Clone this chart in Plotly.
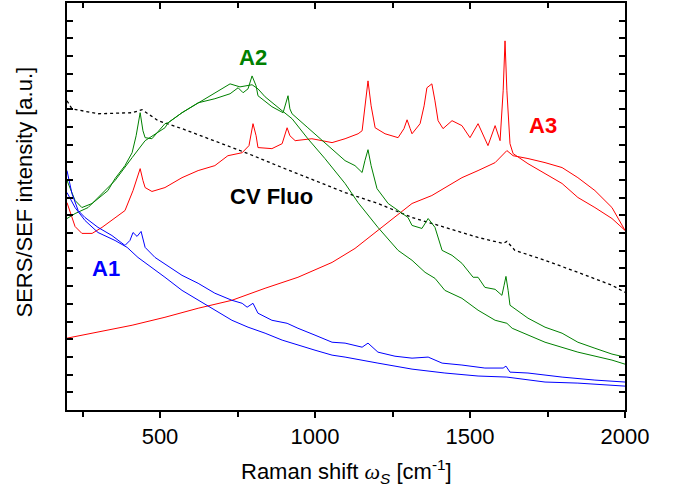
import plotly.graph_objects as go

# ---------------- data ----------------
# A3 SERS (red, with Raman peaks)
a3_sers_x = [200, 226, 248, 281, 313, 355, 387, 413, 426, 436, 445, 452, 474, 516, 571, 623, 677, 719, 765, 787,
             800, 810, 816, 861, 894, 903, 910, 919, 936, 990, 1055, 1097, 1139, 1152, 1161, 1171, 1181, 1194, 1226, 1268,
             1287, 1297, 1307, 1313, 1339, 1352, 1361, 1377, 1387, 1397, 1413, 1442, 1474, 1500, 1526, 1558, 1581, 1597, 1607, 1613,
             1619, 1629, 1639, 1687, 1742, 1797, 1848, 1903, 1958, 2000]
a3_sers_y = [11.72, 10.37, 9.98, 9.98, 10.32, 10.88, 11.27, 12.40, 13.08, 13.64, 12.97, 12.57, 12.35, 12.57, 13.13, 13.53, 13.81, 14.37, 14.54, 14.94,
             16.18, 15.50, 14.83, 14.77, 15.05, 15.50, 15.95, 15.50, 15.22, 15.33, 15.11, 15.33, 15.61, 15.78, 17.19, 18.60, 17.19, 15.95, 15.61, 15.39,
             15.90, 16.40, 15.90, 15.61, 16.18, 17.19, 18.21, 18.43, 17.47, 16.35, 15.90, 16.35, 16.07, 15.39, 16.18, 14.94, 16.07, 15.22, 18.04, 20.86,
             18.04, 15.05, 14.49, 13.92, 13.36, 12.80, 12.01, 11.44, 10.82, 10.15]

# A3 SEF (red, broad fluorescence)
a3_sef_x = [200, 300, 410, 516, 623, 732, 839, 945, 1055, 1129, 1203, 1258, 1313, 1377, 1419, 1474, 1526, 1581, 1619, 1639,
            1687, 1742, 1797, 1848, 1903, 1958, 2000]
a3_sef_y = [4.06, 4.40, 4.79, 5.24, 5.75, 6.20, 6.88, 7.50, 8.34, 9.13, 10.15, 10.88, 11.67, 12.12, 12.57, 13.13, 13.53, 13.98, 14.66, 14.37,
            14.21, 13.98, 13.70, 13.13, 12.40, 11.44, 10.15]

# A2 SERS (green, with peaks)
a2_sers_x = [200, 226, 248, 281, 332, 355, 387, 410, 423, 436, 445, 452, 474, 516, 526, 571, 623, 677, 726, 752,
             768, 784, 797, 810, 816, 861, 897, 907, 913, 919, 926, 977, 1032, 1097, 1129, 1152, 1161, 1171, 1181, 1200,
             1236, 1300, 1313, 1345, 1365, 1387, 1410, 1442, 1474, 1510, 1526, 1548, 1581, 1603, 1610, 1616, 1623, 1629, 1687, 1742,
             1797, 1848, 1903, 1958, 2000]
a2_sers_y = [12.97, 11.84, 11.44, 11.67, 12.40, 13.08, 13.81, 14.54, 15.50, 16.80, 15.78, 15.39, 15.33, 16.18, 16.23, 16.80, 17.36, 17.59, 17.87, 18.21,
             17.93, 18.15, 18.88, 18.32, 17.76, 17.14, 16.80, 17.47, 17.76, 17.02, 16.74, 15.95, 15.11, 14.09, 13.81, 13.42, 14.09, 14.71, 13.81, 12.51,
             11.67, 10.88, 10.43, 10.26, 10.82, 10.32, 9.02, 8.74, 8.29, 7.50, 7.50, 6.93, 6.82, 6.48, 7.05, 7.55, 6.76, 5.92, 5.19, 4.68,
             4.34, 3.83, 3.49, 3.16, 2.99]

# A2 SEF (green, broad)
a2_sef_x = [200, 226, 268, 300, 355, 410, 452, 516, 526, 571, 623, 677, 726, 758, 797, 816, 839, 894, 926, 977,
            1032, 1097, 1139, 1203, 1268, 1313, 1355, 1387, 1419, 1474, 1526, 1581, 1619, 1636, 1687, 1742, 1848, 1958, 2000]
a2_sef_y = [10.82, 11.10, 11.44, 12.01, 12.97, 14.26, 15.22, 15.95, 16.23, 16.80, 17.36, 17.93, 18.43, 18.26, 18.38, 18.15, 17.70, 16.91, 16.46, 15.33,
            14.21, 12.80, 11.72, 10.32, 9.02, 8.46, 7.78, 7.44, 6.76, 6.31, 5.64, 5.07, 4.90, 4.62, 4.23, 3.83, 3.27, 2.82, 2.59]

# A1 SERS (blue, with peaks)
a1_sers_x = [200, 216, 236, 258, 300, 345, 387, 403, 413, 426, 439, 452, 484, 507, 571, 623, 677, 732, 765, 781,
             800, 816, 861, 910, 945, 1000, 1055, 1097, 1152, 1171, 1203, 1258, 1313, 1365, 1410, 1474, 1548, 1607, 1616, 1629,
             1687, 1797, 1903, 2000]
a1_sers_y = [13.53, 12.23, 11.27, 10.88, 10.32, 9.86, 9.30, 9.58, 10.03, 9.81, 10.09, 9.19, 8.62, 8.34, 7.61, 7.16, 6.60, 6.20, 6.03, 5.81,
             6.03, 5.47, 5.07, 4.90, 4.62, 4.23, 3.83, 3.78, 3.55, 3.78, 3.27, 3.04, 2.93, 2.99, 2.65, 2.54, 2.37, 2.37, 2.48, 2.14,
             2.09, 1.86, 1.69, 1.58]

# A1 SEF (blue, lower)
a1_sef_x = [200, 226, 258, 300, 355, 394, 429, 474, 516, 571, 623, 677, 732, 784, 839, 894, 945, 1000, 1055, 1097,
            1203, 1313, 1419, 1526, 1619, 1742, 1848, 2000]
a1_sef_y = [12.29, 11.44, 10.71, 10.03, 9.58, 9.19, 8.62, 8.06, 7.50, 6.76, 6.20, 5.64, 5.07, 4.68, 4.34, 3.95, 3.66, 3.38, 3.10, 2.99,
            2.65, 2.31, 2.09, 1.92, 1.86, 1.58, 1.52, 1.35]

# CV fluorescence (black dotted)
cv_x = [200, 216, 300, 410, 442, 494, 571, 677, 784, 894, 1000, 1097, 1203, 1313, 1419, 1526, 1607, 1619, 1645, 1742,
        1848, 1958, 2000]
cv_y = [17.47, 17.02, 16.74, 16.80, 16.97, 16.35, 15.90, 15.22, 14.49, 13.70, 12.97, 12.29, 11.67, 10.88, 10.32, 9.75, 9.41, 9.53, 9.02, 8.46,
        7.78, 7.05, 6.65]

labels = ["A1", "A2", "A3", "CV Fluo"]
label_x = [326, 800, 1736, 861]
label_y = [8.0, 19.9, 16.07, 12.06]

x_ticks = [500, 1000, 1500, 2000]

BLUE, GREEN, RED, BLACK = "#0000ff", "#008000", "#ff0000", "#000000"
FONT = "Liberation Sans, Arial, sans-serif"

fig = go.Figure()

def add_line(x, y, color, dash="solid", width=1.0):
    fig.add_trace(go.Scatter(x=x, y=y, mode="lines",
                             line=dict(color=color, width=width, dash=dash),
                             showlegend=False, hoverinfo="skip"))

add_line(cv_x, cv_y, BLACK, dash="dot", width=1.3)
add_line(a3_sef_x, a3_sef_y, RED)
add_line(a3_sers_x, a3_sers_y, RED)
add_line(a2_sef_x, a2_sef_y, GREEN)
add_line(a2_sers_x, a2_sers_y, GREEN)
add_line(a1_sef_x, a1_sef_y, BLUE)
add_line(a1_sers_x, a1_sers_y, BLUE)

# empty trace to activate the top (inside-tick) axis
fig.add_trace(go.Scatter(x=[], y=[], xaxis="x2", yaxis="y", showlegend=False, hoverinfo="skip"))

label_colors = [BLUE, GREEN, RED, BLACK]
for t, lx, ly, c in zip(labels, label_x, label_y, label_colors):
    fig.add_annotation(x=lx, y=ly, text="<b>%s</b>" % t, showarrow=False,
                       font=dict(family=FONT, size=22, color=c),
                       xanchor="center", yanchor="middle")

# axis titles
fig.add_annotation(xref="paper", yref="paper", x=0.5, y=0, yshift=-61,
                   text="Raman shift <span style=\"font-family:'Liberation Serif', serif\"><i>ω</i></span>"
                        "<sub><i>S</i></sub> [cm<sup>-1</sup>]",
                   showarrow=False, font=dict(family=FONT, size=22, color=BLACK),
                   xanchor="center", yanchor="middle")
fig.add_annotation(xref="paper", yref="paper", x=0, y=0.5, xshift=-43, yshift=14,
                   text="SERS/SEF intensity [a.u.]", textangle=-90,
                   showarrow=False, font=dict(family=FONT, size=22, color=BLACK),
                   xanchor="center", yanchor="middle")

fig.update_layout(
    width=680, height=500,
    margin=dict(l=67, r=55, t=1, b=90),
    plot_bgcolor="white", paper_bgcolor="white",
    font=dict(family=FONT, size=22, color=BLACK),
    xaxis=dict(range=[200, 2000], tickvals=x_ticks, ticks="outside", ticklen=6, tickwidth=1.5,
               tickcolor=BLACK, showline=True, linecolor=BLACK, linewidth=2, mirror=True,
               showgrid=False, zeroline=False,
               minor=dict(dtick=250, tick0=0, ticks="outside", ticklen=5, tickwidth=1.5, tickcolor=BLACK),
               tickfont=dict(family=FONT, size=22, color=BLACK)),
    xaxis2=dict(range=[200, 2000], overlaying="x", side="top", tickvals=x_ticks, ticks="inside",
                ticklen=6, tickwidth=1.5, tickcolor=BLACK, showticklabels=False, showline=False,
                showgrid=False, zeroline=False,
                minor=dict(dtick=250, tick0=0, ticks="inside", ticklen=5, tickwidth=1.5, tickcolor=BLACK)),
    yaxis=dict(range=[0, 23], dtick=1, tick0=0, ticks="inside", ticklen=6, tickwidth=1.5, tickcolor=BLACK,
               showticklabels=False, showline=True, linecolor=BLACK, linewidth=2, mirror="ticks",
               showgrid=False, zeroline=False),
)

fig.write_html("out.html", config={"displayModeBar": False},
               post_script="document.body.style.margin='0px';")
